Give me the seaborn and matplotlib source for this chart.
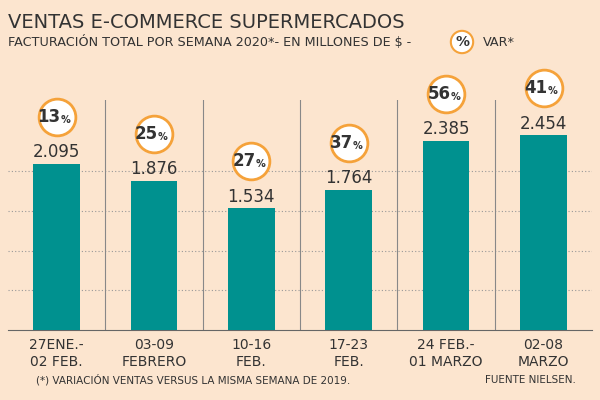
import matplotlib.pyplot as plt
import seaborn as sns
import pandas as pd

weeks = ["27ENE.-\n02 FEB.", "03-09\nFEBRERO", "10-16\nFEB.", "17-23\nFEB.", "24 FEB.-\n01 MARZO", "02-08\nMARZO"]
sales = [2095, 1876, 1534, 1764, 2385, 2454]
variation = [13, 25, 27, 37, 56, 41]

bg = "#fce5cf"
teal = "#00918f"
orange = "#f5a23a"
dark = "#333333"

df = pd.DataFrame({"week": weeks, "sales": sales})

fig = plt.figure(figsize=(6, 4), dpi=100, facecolor=bg)
ax = fig.add_axes([0.013, 0.175, 0.974, 0.575], facecolor=bg)
sns.barplot(data=df, x="week", y="sales", color=teal, width=0.48, saturation=1, ax=ax, zorder=3)

ax.set_ylim(0, 2900)
ax.set_xlim(-0.5, len(weeks) - 0.5)
for y in [500, 1000, 1500, 2000]:
    ax.axhline(y, color="#999999", lw=0.8, ls=(0, (1, 2)), zorder=1)
for x in range(1, len(weeks)):
    ax.axvline(x - 0.5, color="#888888", lw=0.8, zorder=1)
for s in ["top", "left", "right"]:
    ax.spines[s].set_visible(False)
ax.spines["bottom"].set_color("#666666")
ax.set_yticks([])
ax.set_xlabel("")
ax.set_ylabel("")
ax.tick_params(axis="x", length=0, labelsize=10, labelcolor=dark, pad=6)

# circle centre ~47 px above bar top
offset = 47 * 2900 / 230
circle_y = [v + offset for v in sales]
ax.scatter(range(len(weeks)), circle_y, s=700, facecolor="white", edgecolor=orange,
           linewidth=2, zorder=5, clip_on=False)

for i, (v, p) in enumerate(zip(sales, variation)):
    ax.annotate(f"{v:,}".replace(",", "."), (i, v), xytext=(0, 2), textcoords="offset points",
                ha="center", va="bottom", fontsize=12, color=dark)
    ax.annotate(f"{p}", (i, circle_y[i]), xytext=(3, 0), textcoords="offset points",
                ha="right", va="center", fontsize=12, fontweight="bold", color=dark,
                zorder=6, annotation_clip=False)
    ax.annotate("%", (i, circle_y[i]), xytext=(3, -2), textcoords="offset points",
                ha="left", va="center", fontsize=7, fontweight="bold", color=dark,
                zorder=6, annotation_clip=False)

fig.text(0.013, 0.945, "VENTAS E-COMMERCE SUPERMERCADOS", fontsize=14, color=dark, va="center")
fig.text(0.013, 0.895, "FACTURACIÓN TOTAL POR SEMANA 2020*- EN MILLONES DE $ -", fontsize=9.2, color=dark, va="center")
fig.text(0.77, 0.895, "%", fontsize=10, fontweight="bold", color=dark, ha="center", va="center",
         bbox=dict(boxstyle="circle,pad=0.3", fc="white", ec=orange, lw=1.5))
fig.text(0.805, 0.895, "VAR*", fontsize=9.2, color=dark, va="center")
fig.text(0.06, 0.05, "(*) VARIACIÓN VENTAS VERSUS LA MISMA SEMANA DE 2019.", fontsize=7.5, color=dark, va="center")
fig.text(0.96, 0.05, "FUENTE NIELSEN.", fontsize=7.5, color=dark, ha="right", va="center")

fig.savefig("out.png", dpi=100, facecolor=bg)
